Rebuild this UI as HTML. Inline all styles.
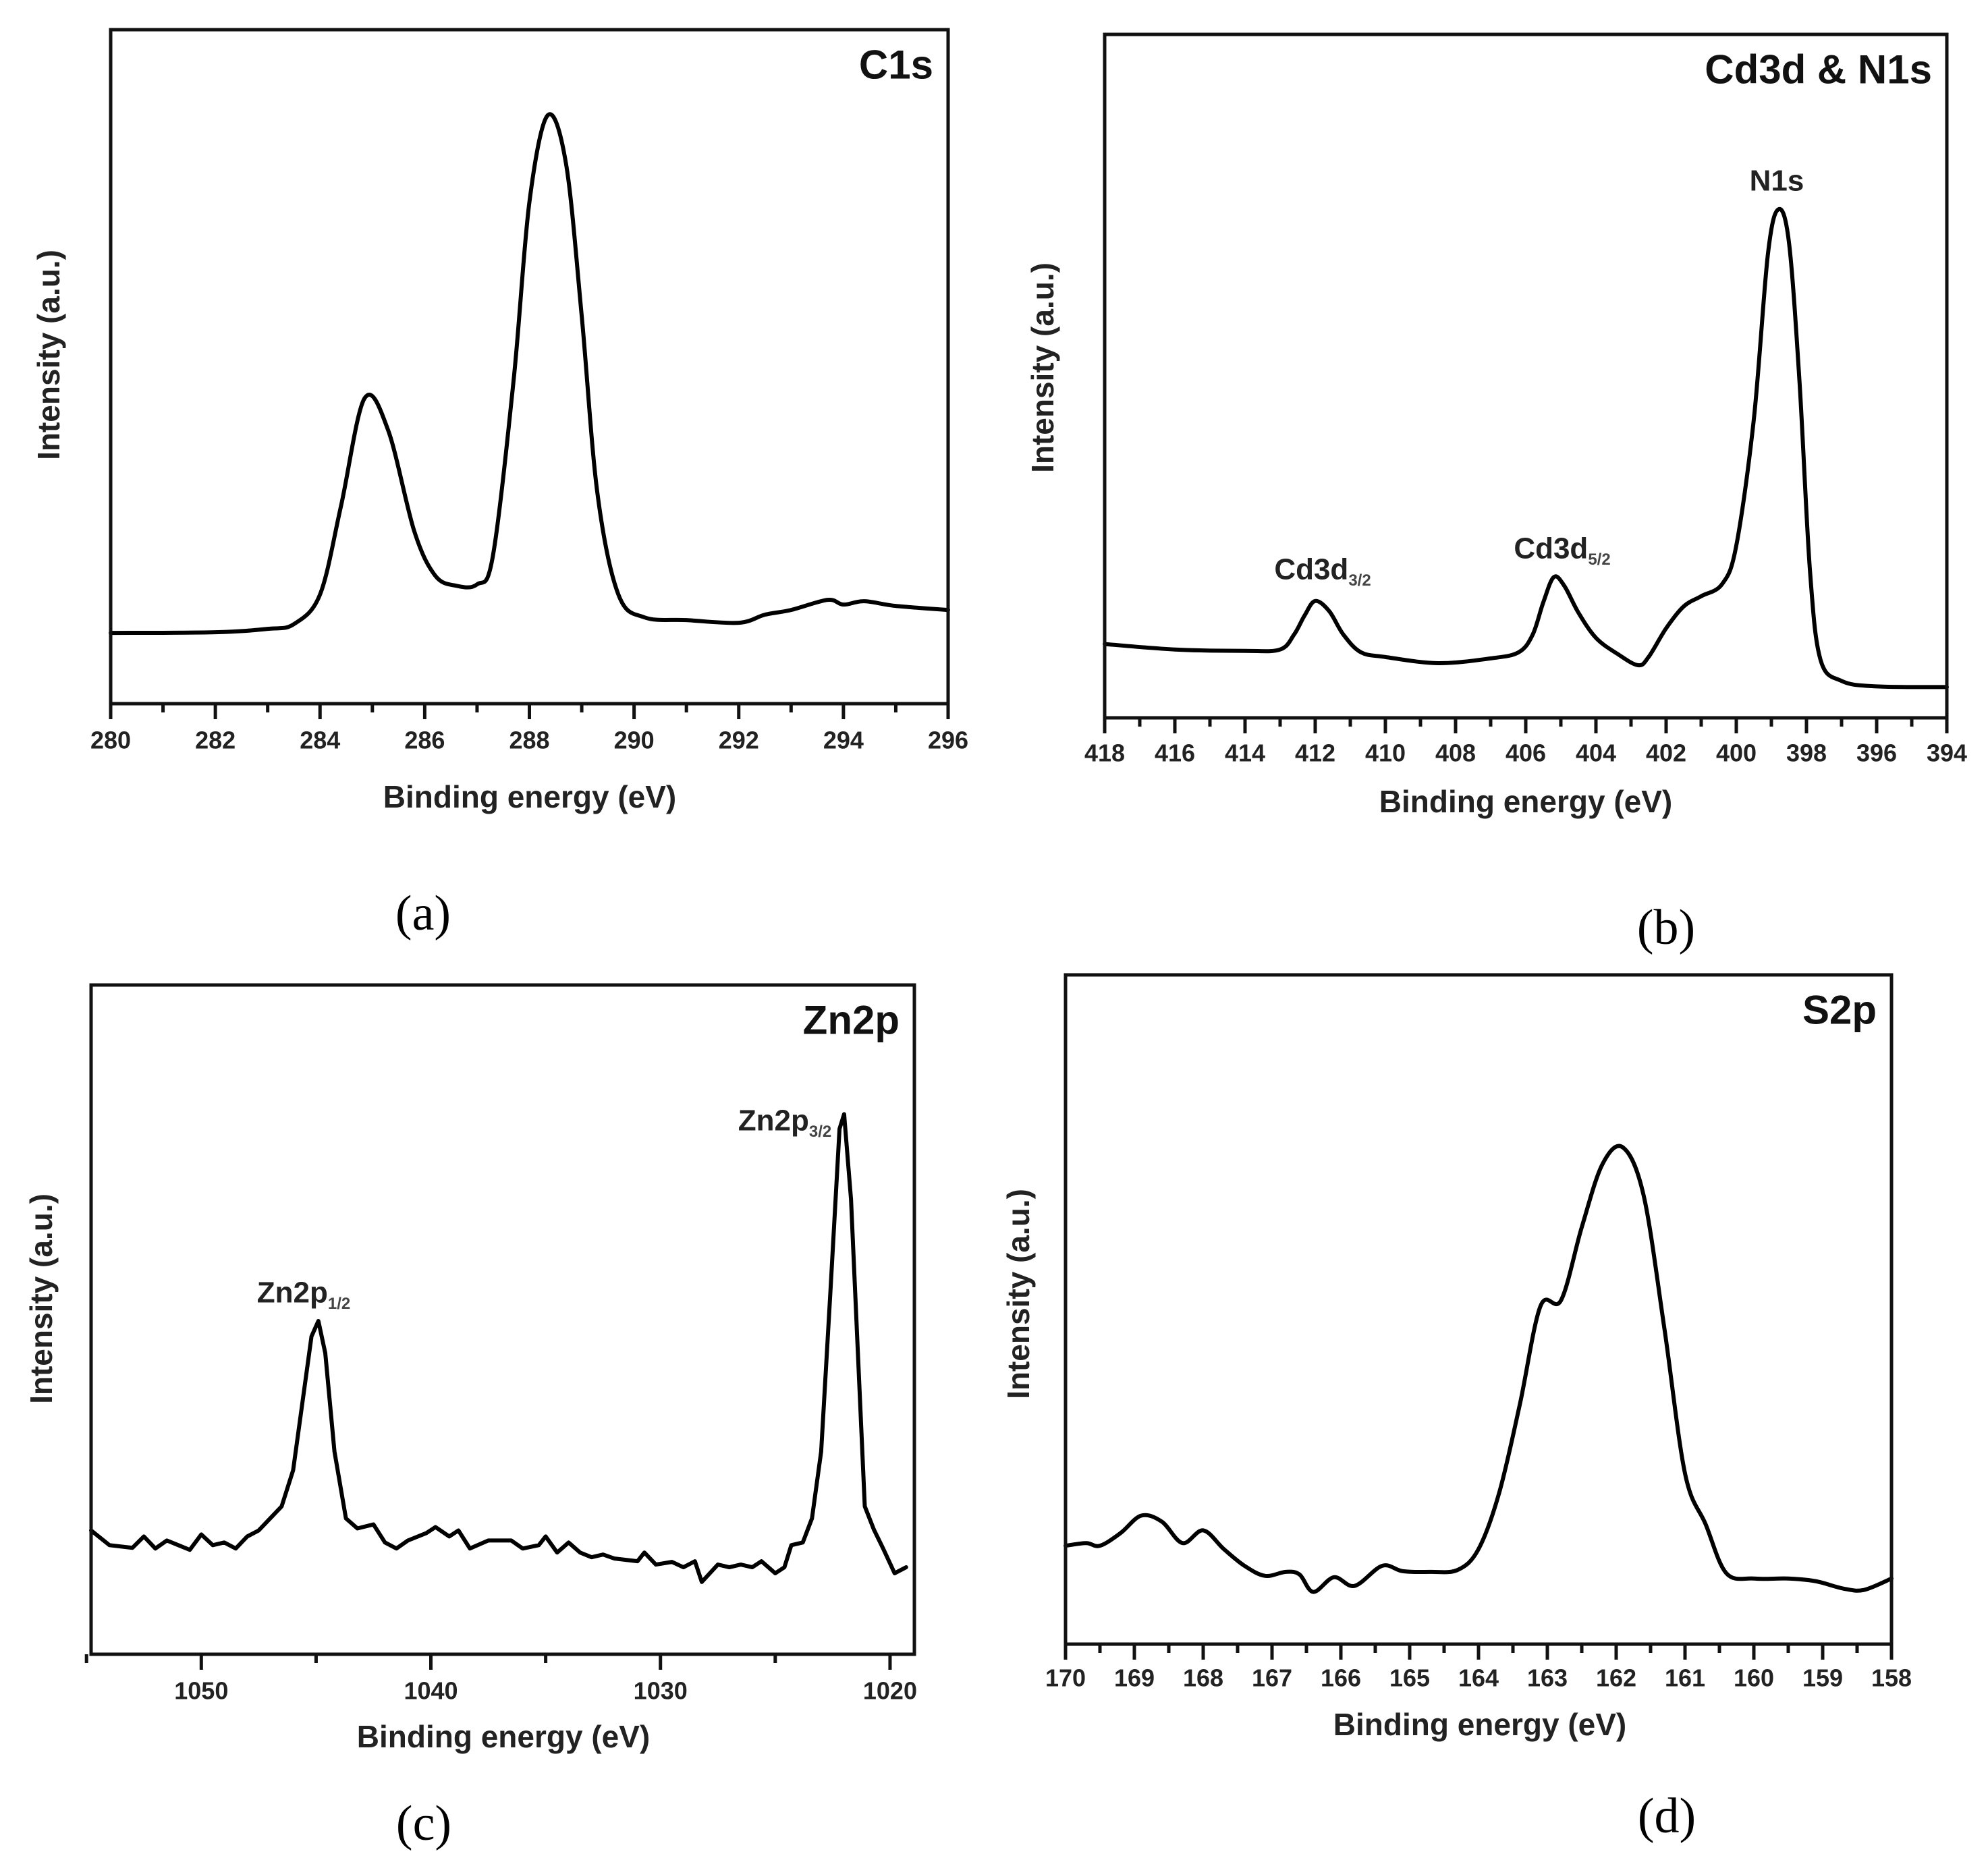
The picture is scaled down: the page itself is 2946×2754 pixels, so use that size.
<!DOCTYPE html>
<html><head><meta charset="utf-8"><style>
html,body{margin:0;padding:0;background:#fff;}
svg{display:block;}
text{font-family:"Liberation Sans",Arial,sans-serif;}
.tick{font-size:36px;font-weight:bold;fill:#222;}
.xt{font-size:46px;font-weight:bold;fill:#222;}
.ttl{font-size:60px;font-weight:bold;fill:#111;}
.ann{font-size:44px;font-weight:bold;fill:#222;}
.sub{font-size:24px;font-weight:bold;fill:#444;}
.lab{font-family:"Liberation Serif",serif;font-size:74px;fill:#000;}
</style></head><body>
<svg id="fig" width="2946" height="2754" viewBox="0 0 2946 2754" xmlns="http://www.w3.org/2000/svg"></svg>
<script>
// Panel (a) C1s
const aX=[280,282,283,283.5,284,284.4,284.85,285.3,285.8,286.2,286.6,287.0,287.3,287.7,288.0,288.35,288.7,289.0,289.3,289.7,290.2,291,292,292.5,293,293.7,294,294.4,295,296];
const aY=[10.5,10.6,11.1,11.8,16.2,29.3,45.3,40.6,25.6,19.0,17.5,17.7,21.8,48.1,74.4,87.3,80.1,57.5,31.2,16.2,12.8,12.4,12.0,13.2,13.9,15.4,14.7,15.2,14.5,13.9];
const aTicks=[280,282,284,286,288,290,292,294,296];
// Panel (b) Cd3d & N1s
const bX=[418,416,414,413,412.6,412.3,412,411.6,411.2,410.7,410,408.5,407,406.2,405.8,405.5,405.2,404.9,404.5,404,403.4,402.8,402.5,402,401.5,401,400.4,400,399.5,399.1,398.8,398.5,398.2,397.9,397.6,397,396,394];
const bY=[10.8,10.0,9.8,10.0,12.2,15.0,17.1,15.6,12.2,9.6,8.9,8.0,8.7,9.6,12.2,16.9,20.6,19.3,15.4,11.7,9.4,7.7,8.9,13.1,16.3,17.8,19.6,25.2,43.7,67.8,74.4,69.6,49.3,21.5,8.5,5.4,4.6,4.5];
const bTicks=[418,416,414,412,410,408,406,404,402,400,398,396,394];
// Panel (c) Zn2p
const cX=[1054.8,1054,1053,1052.5,1052,1051.5,1051,1050.5,1050,1049.5,1049,1048.5,1048,1047.5,1047,1046.5,1046,1045.6,1045.2,1044.9,1044.6,1044.2,1043.7,1043.2,1042.5,1042,1041.5,1041,1040.2,1039.8,1039.2,1038.8,1038.3,1037.5,1036.5,1036,1035.3,1035,1034.5,1034,1033.5,1033,1032.5,1032,1031,1030.7,1030.2,1029.5,1029,1028.5,1028.2,1027.5,1027,1026.5,1026,1025.6,1025,1024.6,1024.3,1023.8,1023.4,1023,1022.6,1022.2,1022.0,1021.7,1021.4,1021.1,1020.7,1020.3,1019.8,1019.3];
const cY=[18.5,16.3,15.9,17.6,15.8,17.0,16.3,15.6,17.9,16.3,16.7,15.8,17.6,18.5,20.3,22.1,27.5,37.5,47.5,49.8,45.0,30.3,20.3,18.8,19.4,16.7,15.8,17.0,18.1,19.0,17.6,18.5,15.8,17.0,17.0,15.8,16.3,17.6,15.2,16.7,15.2,14.5,14.9,14.3,13.9,15.2,13.4,13.8,13.0,13.9,10.8,13.4,13.0,13.4,13.0,13.9,12.1,13.0,16.3,16.7,20.3,30.3,54.0,78.5,80.7,68.0,45.0,22.1,18.6,15.8,12.1,13.0];
const cTicks=[1050,1040,1030,1020];
const cMinor=[1055,1045,1035,1025];
// Panel (d) S2p
const dX=[170,169.7,169.5,169.2,168.9,168.6,168.3,168.0,167.7,167.4,167.1,166.8,166.6,166.4,166.1,165.8,165.4,165.1,164.7,164.3,164.0,163.7,163.4,163.1,162.8,162.5,162.2,161.9,161.6,161.3,161.0,160.7,160.4,160.0,159.5,159.1,158.7,158.4,158.0];
const dY=[14.7,15.1,14.7,16.6,19.2,18.3,15.1,17.0,14.2,11.7,10.2,10.8,10.4,7.8,10.0,8.7,11.7,10.9,10.8,11.1,14.2,22.6,35.8,50.5,51.4,62.3,71.7,74.2,67.0,47.2,25.5,17.9,10.6,9.8,9.8,9.4,8.3,8.1,9.8];
const dTicks=[170,169,168,167,166,165,164,163,162,161,160,159,158];

const NS="http://www.w3.org/2000/svg";
const svg=document.getElementById('fig');
function mk(tag,attrs,parent){const e=document.createElementNS(NS,tag);for(const k in attrs)e.setAttribute(k,attrs[k]);(parent||svg).appendChild(e);return e;}
function txt(s,x,y,cls,parent,anchor){const t=mk('text',{x:x,y:y,'class':cls,'text-anchor':anchor||'middle','dominant-baseline':'central'},parent);t.textContent=s;return t;}

function panel(o){
  const g=mk('g',{});
  
  
  const sx=v=>o.L+(v-o.x0)/(o.x1-o.x0)*(o.R-o.L);
  const sy=v=>o.B-v/100*(o.B-o.T);
  const tg=mk('g',{},g);
  
  
  o.ticks.forEach(v=>{
    mk('line',{x1:sx(v),x2:sx(v),y1:o.B,y2:o.B+23,stroke:'#111','stroke-width':5},tg);
    const t=txt(String(v),sx(v),o.B+(o.tl||52),'tick',tg);
    
    
  });
  o.minor.forEach(v=>{mk('line',{x1:sx(v),x2:sx(v),y1:o.B,y2:o.B+13,stroke:'#111','stroke-width':5},tg);});
  const pts=o.xs.map((x,i)=>[sx(x),sy(o.ys[i])]);
  let d='M'+pts[0][0]+','+pts[0][1];
  if(o.smooth){
    for(let i=0;i<pts.length-1;i++){
      const p0=pts[i-1]||pts[i],p1=pts[i],p2=pts[i+1],p3=pts[i+2]||p2;
      const c1=[p1[0]+(p2[0]-p0[0])/6,p1[1]+(p2[1]-p0[1])/6];
      const c2=[p2[0]-(p3[0]-p1[0])/6,p2[1]-(p3[1]-p1[1])/6];
      d+=' C'+c1[0]+','+c1[1]+' '+c2[0]+','+c2[1]+' '+p2[0]+','+p2[1];
    }
  } else { for(let i=1;i<pts.length;i++) d+=' L'+pts[i][0]+','+pts[i][1]; }
  const path=mk('path',{d:d,fill:'none',stroke:'#000','stroke-width':6,'stroke-linejoin':'round','stroke-linecap':'round'},g);
  
  
  const fr=mk('rect',{x:o.L,y:o.T,width:o.R-o.L,height:o.B-o.T,fill:'none',stroke:'#111','stroke-width':5},g);
  
  
  const xt=txt('Binding energy (eV)',o.xlx,o.xly,'xt',g);
  
  
  const yt=txt('Intensity (a.u.)',0,0,'xt',g);
  yt.setAttribute('transform','translate('+o.ylx+','+o.yly+') rotate(-90)');
  
  
  const tt=txt(o.title,o.R-22,o.T+52,'ttl',g,'end');
  
  
  const lb=txt(o.lab,o.lbx,o.lby,'lab',g);
  
  
  return {g,sx,sy};
}
function range(a,b,s){const r=[];for(let v=a;s>0?v<=b+1e-9:v>=b-1e-9;v+=s)r.push(+v.toFixed(2));return r;}

panel({name:'panel-a-c1s',L:164,R:1405,T:44,B:1043,x0:280,x1:296,xs:aX,ys:aY,smooth:true,ticks:aTicks,minor:range(281,295,2),title:'C1s',xlx:785,xly:1181,ylx:72,yly:526,lab:'(a)',lbx:627,lby:1354,tl:54});
panel({name:'panel-b-cd3d-n1s',L:1637,R:2885,T:51,B:1064,x0:418,x1:394,xs:bX,ys:bY,smooth:true,ticks:bTicks,minor:range(417,395,-2),title:'Cd3d & N1s',xlx:2261,xly:1188,ylx:1545,yly:545,lab:'(b)',lbx:2469,lby:1375,tl:52});
panel({name:'panel-c-zn2p',L:135,R:1355,T:1460,B:2452,x0:1054.8,x1:1018.94,xs:cX,ys:cY,smooth:false,ticks:cTicks,minor:cMinor,title:'Zn2p',xlx:746,xly:2574,ylx:61,yly:1925,lab:'(c)',lbx:628,lby:2703,tl:54});
panel({name:'panel-d-s2p',L:1579,R:2803,T:1445,B:2437,x0:170,x1:158,xs:dX,ys:dY,smooth:true,ticks:dTicks,minor:range(169.5,158.5,-1),title:'S2p',xlx:2193,xly:2556,ylx:1509,yly:1918,lab:'(d)',lbx:2470,lby:2692,tl:50});

function ann(main,sub,x,y,name){
  const t=mk('text',{x:x,y:y,'class':'ann','text-anchor':'middle','dominant-baseline':'central'});
  
  
  t.appendChild(document.createTextNode(main));
  if(sub){const s=document.createElementNS(NS,'tspan');s.setAttribute('class','sub');s.setAttribute('dy','16');s.textContent=sub;t.appendChild(s);}
}
ann('N1s','',2633,268,'n1s-peak-label');
ann('Cd3d','3/2',1960,844,'cd3d32-peak-label');
ann('Cd3d','5/2',2315,813,'cd3d52-peak-label');
ann('Zn2p','3/2',1163,1661,'zn2p32-peak-label');
ann('Zn2p','1/2',450,1916,'zn2p12-peak-label');
</script>
</body></html>
